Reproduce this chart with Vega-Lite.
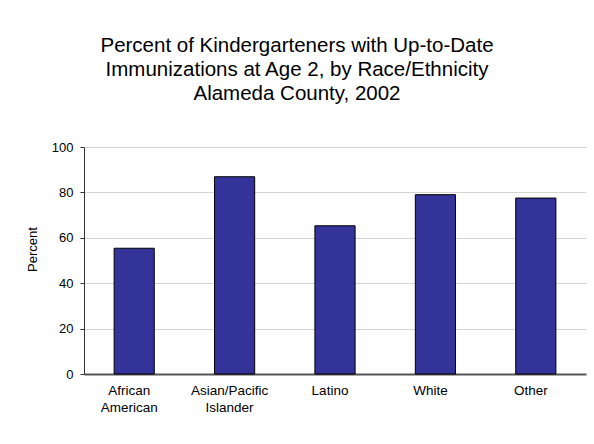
{
  "$schema": "https://vega.github.io/schema/vega-lite/v6.json",
  "autosize": {"type": "none"},
  "width": 502,
  "height": 227,
  "padding": {"left": 84, "top": 147, "right": 8, "bottom": 70},
  "background": "white",
  "config": {
    "font": "Liberation Sans",
    "view": {"stroke": null},
    "axis": {"labelColor": "black", "titleColor": "black", "labelFont": "Liberation Sans", "titleFont": "Liberation Sans"}
  },
  "title": {
    "text": ["Percent of Kindergarteners with Up-to-Date", "Immunizations at Age 2, by Race/Ethnicity", "Alameda County, 2002"],
    "fontSize": 20.5,
    "fontWeight": "normal",
    "font": "Liberation Sans",
    "color": "black",
    "lineHeight": 24,
    "anchor": "middle",
    "dx": -38,
    "offset": 37
  },
  "data": {
    "values": [
      {"group": "African American", "percent": 55.4},
      {"group": "Asian/Pacific Islander", "percent": 86.9},
      {"group": "Latino", "percent": 65.3},
      {"group": "White", "percent": 79.0},
      {"group": "Other", "percent": 77.5}
    ]
  },
  "mark": {"type": "bar", "color": "#333399", "stroke": "black", "strokeWidth": 1},
  "encoding": {
    "x": {
      "field": "group",
      "type": "nominal",
      "sort": null,
      "scale": {"paddingInner": 0.6, "paddingOuter": 0.3},
      "axis": {
        "title": null,
        "labelAngle": 0,
        "labelExpr": "split(datum.label, ' ')",
        "labelFontSize": 13.5,
        "labelLineHeight": 17,
        "labelBaseline": "top",
        "labelPadding": 9,
        "labelOffset": -5,
        "ticks": false,
        "domainColor": "#555555",
        "domainWidth": 2,
        "grid": false
      }
    },
    "y": {
      "field": "percent",
      "type": "quantitative",
      "scale": {"domain": [0, 100], "nice": false},
      "axis": {
        "title": "Percent",
        "titleFontSize": 13,
        "titleFontWeight": "normal",
        "titleX": -52,
        "titleY": 102,
        "titleBaseline": "middle",
        "titleAngle": -90,
        "values": [0, 20, 40, 60, 80, 100],
        "labelFontSize": 13,
        "labelPadding": 7,
        "tickSize": 4,
        "tickColor": "#333333",
        "domainColor": "#333333",
        "gridColor": "#d4d4d4",
        "gridWidth": 1
      }
    }
  }
}
